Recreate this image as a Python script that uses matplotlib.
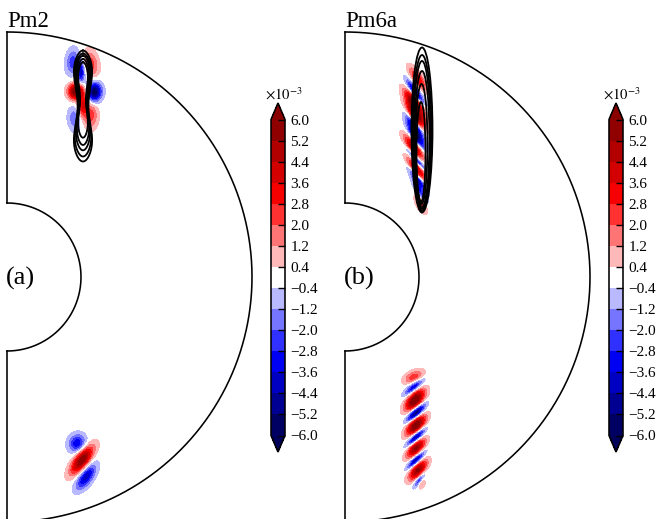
import numpy as np
import matplotlib
matplotlib.use("Agg")
import matplotlib.pyplot as plt
from matplotlib.colors import ListedColormap
from matplotlib.patches import Ellipse

plt.rcParams["font.family"] = ["Liberation Serif", "DejaVu Serif"]
plt.rcParams["mathtext.fontset"] = "stix"

# geometry of the half annulus
r_in = 0.74
r_out = 2.45
levels = np.array([-6.0, -5.2, -4.4, -3.6, -2.8, -2.0, -1.2, -0.4, 0.4, 1.2, 2.0, 2.8, 3.6, 4.4, 5.2, 6.0])
tick_labels = ["−6.0", "−5.2", "−4.4", "−3.6", "−2.8", "−2.0", "−1.2", "−0.4",
               "0.4", "1.2", "2.0", "2.8", "3.6", "4.4", "5.2", "6.0"]

# panel a, field lobes (units of 1e-3)
a_x = [0.655, 0.84, 0.69, 0.875, 0.675, 0.835, 0.74, 0.76, 0.70, 0.75, 0.79]
a_y = [2.15, 2.13, 1.855, 1.85, 1.58, 1.62, 2.05, 1.72, -1.66, -1.83, -2.00]
a_amp = [-2.6, 2.4, 6.5, -6.5, -2.0, 2.4, -4.0, 3.5, -3.6, 6.0, -4.2]
a_along = [0.09, 0.09, 0.052, 0.065, 0.085, 0.09, 0.08, 0.08, 0.065, 0.11, 0.10]
a_across = [0.048, 0.048, 0.05, 0.05, 0.048, 0.048, 0.03, 0.03, 0.058, 0.043, 0.047]
a_angle = [85, 100, 90, 85, 95, 90, 90, 90, 60, 53, 55]

# panel a, black contours
a_line_y = [1.71, 1.72, 1.74, 1.75, 1.77]
a_line_h = [0.555, 0.515, 0.473, 0.43, 0.377]
a_line_w = [0.135, 0.122, 0.105, 0.09, 0.072]

# panel b, field lobes
b_x = [0.69, 0.69, 0.70, 0.71, 0.71, 0.71, 0.71, 0.71, 0.73, 0.74, 0.77,
       0.73, 0.70, 0.69, 0.71, 0.70, 0.71, 0.69, 0.71, 0.72, 0.73, 0.75, 0.76]
b_y = [-1.00, -1.10, -1.23, -1.36, -1.48, -1.60, -1.71, -1.83, -1.93, -2.03, -2.07,
       1.98, 1.85, 1.75, 1.62, 1.50, 1.40, 1.28, 1.18, 1.08, 0.98, 0.84, 0.74]
b_amp = [2.5, -4.0, 6.5, -6.5, 6.5, -5.5, 5.5, -5.0, 5.5, -3.0, 1.5,
         3.5, -5.0, 6.0, 6.0, -5.0, -5.0, 6.0, -6.0, 6.0, -5.0, -3.0, 2.5]
b_along = [0.07, 0.08, 0.085, 0.08, 0.085, 0.08, 0.08, 0.075, 0.08, 0.06, 0.035,
           0.09, 0.095, 0.10, 0.10, 0.095, 0.095, 0.10, 0.10, 0.10, 0.095, 0.085, 0.065]
b_across = [0.038, 0.03, 0.042, 0.033, 0.042, 0.03, 0.036, 0.028, 0.036, 0.024, 0.018,
            0.03, 0.03, 0.033, 0.033, 0.03, 0.03, 0.033, 0.03, 0.033, 0.03, 0.025, 0.03]
b_angle = [25, 40, 50, 45, 50, 45, 48, 45, 50, 55, 65,
           -55, -55, -55, -55, -55, -55, -55, -55, -55, -55, -60, -65]

# panel b, black contours
b_ell_x = [0.77, 0.77, 0.77, 0.77, 0.765, 0.76]
b_ell_y = [1.47, 1.44, 1.42, 1.38, 1.33, 1.25]
b_ell_w = [0.105, 0.095, 0.085, 0.075, 0.06, 0.045]
b_ell_h = [0.825, 0.78, 0.74, 0.68, 0.60, 0.50]

# seismic bands, with the middle one kept pure white
mids = (levels[:-1] + levels[1:]) / 2
band_colors = plt.cm.seismic((mids + 6) / 12)
band_colors[7] = (1, 1, 1, 1)
band_cmap = ListedColormap(band_colors)
band_cmap.set_under(plt.cm.seismic(0.02))
band_cmap.set_over(plt.cm.seismic(0.98))


def make_field(xx, yy, x0, y0, amp, along, across, angle):
    field = np.zeros_like(xx)
    for i in range(len(x0)):
        t = np.deg2rad(angle[i])
        u = (xx - x0[i]) * np.cos(t) + (yy - y0[i]) * np.sin(t)
        v = -(xx - x0[i]) * np.sin(t) + (yy - y0[i]) * np.cos(t)
        field += amp[i] * np.exp(-u**2 / (2 * along[i]**2) - v**2 / (2 * across[i]**2))
    return field


def draw_panel(left_px, title, tag, x0, y0, amp, along, across, angle):
    ax = fig.add_axes([left_px / 659, 0, 262 / 659, 1])
    ax.set_xlim(-0.07, 2.55)
    ax.set_ylim(-2.42, 2.77)
    ax.axis("off")

    xx, yy = np.meshgrid(np.linspace(0, 2.5, 900), np.linspace(-2.45, 2.45, 1700))
    field = make_field(xx, yy, x0, y0, amp, along, across, angle)
    cf = ax.contourf(xx, yy, field, levels=levels, cmap=band_cmap, extend="both")

    # boundary of the half annulus
    theta = np.linspace(-np.pi / 2, np.pi / 2, 400)
    ax.plot(r_out * np.cos(theta), r_out * np.sin(theta), color="black", linewidth=1.15)
    ax.plot(r_in * np.cos(theta), r_in * np.sin(theta), color="black", linewidth=1.15)
    ax.plot([0, 0], [r_in, r_out], color="black", linewidth=1.15)
    ax.plot([0, 0], [-r_out, -r_in], color="black", linewidth=1.15)

    ax.text(0, 2.5, title, fontsize=16.5, ha="left", va="baseline")
    ax.text(-0.01, -0.08, tag, fontsize=19, ha="left", va="baseline")

    # colorbar
    cax = fig.add_axes([(left_px + 271) / 659, 1 - 452 / 519, 14 / 659, 349 / 519])
    cb = fig.colorbar(cf, cax=cax, extend="both", extendfrac=16.5 / 316)
    cb.set_ticks(levels)
    cb.set_ticklabels(tick_labels)
    cb.ax.tick_params(direction="in", length=5, width=1.0, labelsize=11, pad=4)
    cb.ax.minorticks_off()
    cb.outline.set_linewidth(1.15)
    fig.text((left_px + 284) / 659, 1 - 94 / 519, r"$\times 10^{-3}$", fontsize=10.5, ha="center", va="center")
    return ax


fig = plt.figure(figsize=(6.59, 5.19), dpi=100, facecolor="white")
ax_a = draw_panel(0, "Pm2", "(a)", a_x, a_y, a_amp, a_along, a_across, a_angle)
ax_b = draw_panel(338, "Pm6a", "(b)", b_x, b_y, b_amp, b_along, b_across, b_angle)

# pinched closed contours of panel a
t = np.linspace(0, 2 * np.pi, 400)
for i in range(len(a_line_y)):
    half = a_line_w[i] * np.sin(t) * (1 - 0.6 * np.sin(t)**6)
    ax_a.plot(0.76 + half, a_line_y[i] + a_line_h[i] * np.cos(t), color="black", linewidth=1.3)

for i in range(len(b_ell_x)):
    ax_b.add_patch(Ellipse((b_ell_x[i], b_ell_y[i]), 2 * b_ell_w[i], 2 * b_ell_h[i], fill=False, edgecolor="black", linewidth=1.3))

fig.savefig("out.png", dpi=100)
